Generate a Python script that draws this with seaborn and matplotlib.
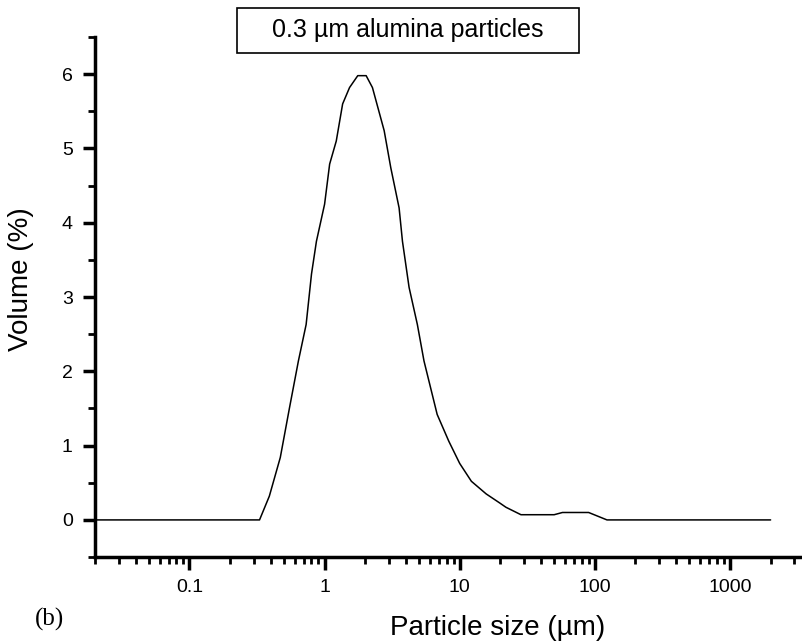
import numpy as np
import pandas as pd
import matplotlib
matplotlib.use('Agg')
import matplotlib.pyplot as plt
import matplotlib.ticker as mticker
from matplotlib.patches import Rectangle
import seaborn as sns

# particle size distribution
size_um = [0.02, 0.33, 0.39, 0.47, 0.55, 0.64, 0.73, 0.80, 0.87, 1.00, 1.09,
           1.22, 1.36, 1.53, 1.76, 2.03, 2.26, 2.76, 3.09, 3.56, 3.77, 4.22,
           4.86, 5.44, 6.81, 8.3, 10.0, 12.2, 15.7, 19.7, 22.0, 28.4, 50.0,
           57.6, 90.0, 123.0, 2000.0]
volume_pct = [0.0, 0.0, 0.32, 0.84, 1.51, 2.14, 2.63, 3.31, 3.75, 4.25, 4.79,
              5.10, 5.60, 5.82, 5.98, 5.98, 5.82, 5.24, 4.74, 4.20, 3.75, 3.13,
              2.63, 2.14, 1.42, 1.06, 0.76, 0.52, 0.35, 0.23, 0.17, 0.07, 0.07,
              0.10, 0.10, 0.0, 0.0]
xtick_vals = [0.1, 1, 10, 100, 1000]
xtick_labels = ['0.1', '1', '10', '100', '1000']
ytick_vals = [0, 1, 2, 3, 4, 5, 6]

df = pd.DataFrame({'size': size_um, 'volume': volume_pct})

sns.set_style("ticks", {'axes.edgecolor': 'black', 'text.color': 'black',
                        'axes.labelcolor': 'black', 'xtick.color': 'black',
                        'ytick.color': 'black'})
plt.rcParams['font.family'] = ['Liberation Sans', 'DejaVu Sans']

fig = plt.figure(figsize=(8.02, 6.44), dpi=100)
ax = fig.add_axes([0.1185, 0.135, 0.879, 0.8075])

sns.lineplot(data=df, x='size', y='volume', color='black', linewidth=1.1, ax=ax)

ax.set_xscale('log')
ax.set_xlim(0.02, 3300)
ax.set_ylim(-0.5, 6.5)

ax.xaxis.set_major_locator(mticker.FixedLocator(xtick_vals))
ax.xaxis.set_major_formatter(mticker.FixedFormatter(xtick_labels))
ax.xaxis.set_minor_locator(mticker.LogLocator(base=10, subs=np.arange(2, 10), numticks=20))
ax.xaxis.set_minor_formatter(mticker.NullFormatter())
ax.set_yticks(ytick_vals)
ax.yaxis.set_minor_locator(mticker.MultipleLocator(0.5))

sns.despine(ax=ax)
for s in ['left', 'bottom']:
    ax.spines[s].set_linewidth(2.5)
ax.tick_params(which='major', length=9, width=2.5, labelsize=14, pad=7)
ax.tick_params(which='minor', length=5, width=2.0)

ax.set_xlabel('')
ax.set_ylabel('Volume (%)', fontsize=20)
ax.yaxis.set_label_coords(-0.087, 0.535)

fig.text(0.62, 0.025, 'Particle size (µm)', fontsize=20, ha='center', va='center')
fig.text(0.062, 0.038, '(b)', fontsize=18, ha='center', va='center',
         family=['Liberation Serif', 'DejaVu Serif'])

# title box
fig.patches.append(Rectangle((237 / 802, 1 - 53 / 644), 342 / 802, 45 / 644,
                             transform=fig.transFigure, facecolor='white',
                             edgecolor='black', linewidth=1.2))
fig.text(0.508, 1 - 30 / 644, '0.3 µm alumina particles', fontsize=18,
         ha='center', va='center')

plt.savefig('out.png', dpi=100)
